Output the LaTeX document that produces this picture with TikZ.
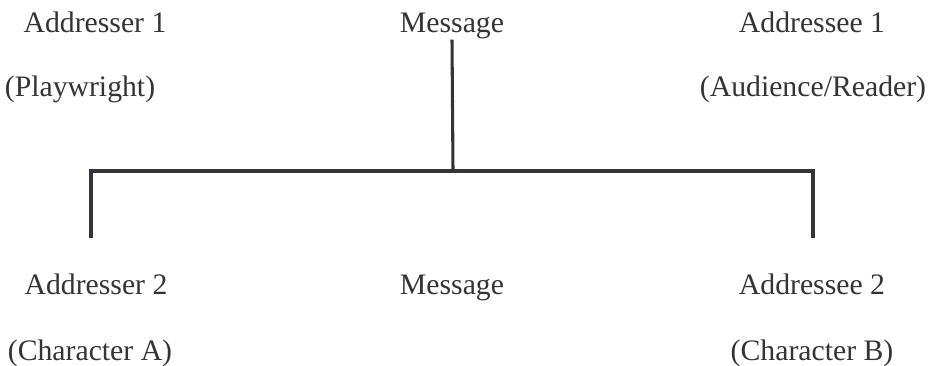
\documentclass[tikz,border=0pt]{standalone}
\usepackage{fontspec}
\setmainfont{Liberation Serif}
\usepackage{tikz}
\usetikzlibrary{positioning, calc}
\definecolor{inkGray}{HTML}{333338}

\begin{document}
\begin{tikzpicture}[x=0.75pt, y=-0.75pt,
  lbl/.style={text=inkGray, inner sep=0pt, anchor=base,
              font=\fontsize{22.3}{26}\selectfont},
  stem/.style={draw=inkGray, line width=2.3pt},
  bracket/.style={draw=inkGray, line width=3pt, line join=miter}]
  \useasboundingbox (0,0) rectangle (930,366);
  % upper level: playwright -> audience
  \node[lbl] (sndA) at (95,33) {Addresser 1};
  \node[lbl] (msgA) at (452,33) {Message};
  \node[lbl] (rcvA) at (812,33) {Addressee 1};
  \node[lbl] (sndArole) at (80,97) {(Playwright)};
  \node[lbl] (rcvArole) at (813,97) {(Audience/Reader)};
  % lower level: character -> character
  \node[lbl] (sndB) at (96,295) {Addresser 2};
  \node[lbl] (msgB) at (452,295) {Message};
  \node[lbl] (rcvB) at (812,295) {Addressee 2};
  \node[lbl] (sndBrole) at (90,360) {(Character A)};
  \node[lbl] (rcvBrole) at (812,360) {(Character B)};
  % embedding bracket
  \coordinate (joint) at (453,171);
  \coordinate (lfoot) at (91,238);
  \coordinate (rfoot) at (813,238);
  \draw[stem] (msgA.south) -- (joint);
  \draw[bracket] (lfoot) -- (lfoot|-joint) -- (rfoot|-joint) -- (rfoot);
\end{tikzpicture}
\end{document}
